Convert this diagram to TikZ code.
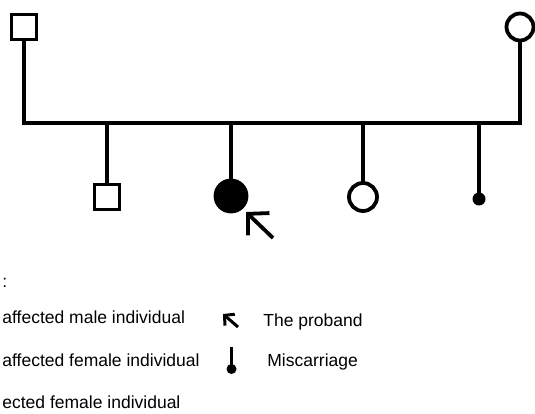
\documentclass[tikz,border=0pt]{standalone}
\usepackage{fontspec}
\setmainfont{Liberation Sans}
\usetikzlibrary{arrows.meta}

\tikzset{
  male/.style={rectangle,draw=black,line width=3.8pt,minimum size=25pt,inner sep=0pt},
  female/.style={circle,draw=black,line width=3.8pt,minimum size=27pt,inner sep=0pt},
  lost/.style={circle,fill=black,minimum size=13pt,inner sep=0pt},
  keytext/.style={anchor=base west,inner sep=0pt,font=\fontsize{17.5}{21}\selectfont}
}

\begin{document}
\begin{tikzpicture}[x=1pt,y=-1pt,line width=3.8pt]
        \useasboundingbox (0,0) rectangle (535,414);

        % parents
        \node(1) at (24,27) [male] {};
        \node(2) at (520,27) [female] {};
        \coordinate (l) at (24,123);
        \coordinate (r) at (520,123);

        % children
        \node(3) at (107,197) [male] {};
        \node(4) at (231,196) [female,fill=black,minimum size=31pt] {};
        \node(5) at (363,197) [female,minimum size=28pt] {};
        \node(6) at (479,199) [lost] {};

        \draw (1) -- (l) -- (r) -- (2);
        \draw (3 |- l) -- (3);
        \draw (4 |- l) -- (4);
        \draw (5 |- l) -- (5);
        \draw (6 |- l) -- (6.center);

        % proband arrow
        \coordinate (p) at (273,238);
        \coordinate (q) at (246,212);
        \draw [-{Straight Barb[length=15pt,width=31pt]}] (p) -- (q);

        % key
        \node(k0) at (0.5,287) [keytext] {:};
        \node(k1) at (0.5,323) [keytext] {affected male individual};
        \node(k2) at (0.5,366) [keytext] {affected female individual};
        \node(k3) at (0.5,408) [keytext] {ected female individual};

        \coordinate (a1) at (238,327);
        \coordinate (a2) at (223,314);
        \draw [line width=3pt,-{Straight Barb[length=7pt,width=15pt]}] (a1) -- (a2);
        \node(k4) at (261.5,326) [keytext] {The proband};

        \node(m) at (231.5,369) [lost,minimum size=10pt] {};
        \coordinate (mt) at (231.5,347);
        \draw [line width=3pt] (mt) -- (m.center);
        \node(k5) at (265.5,366.5) [keytext] {Miscarriage};
\end{tikzpicture}
\end{document}
